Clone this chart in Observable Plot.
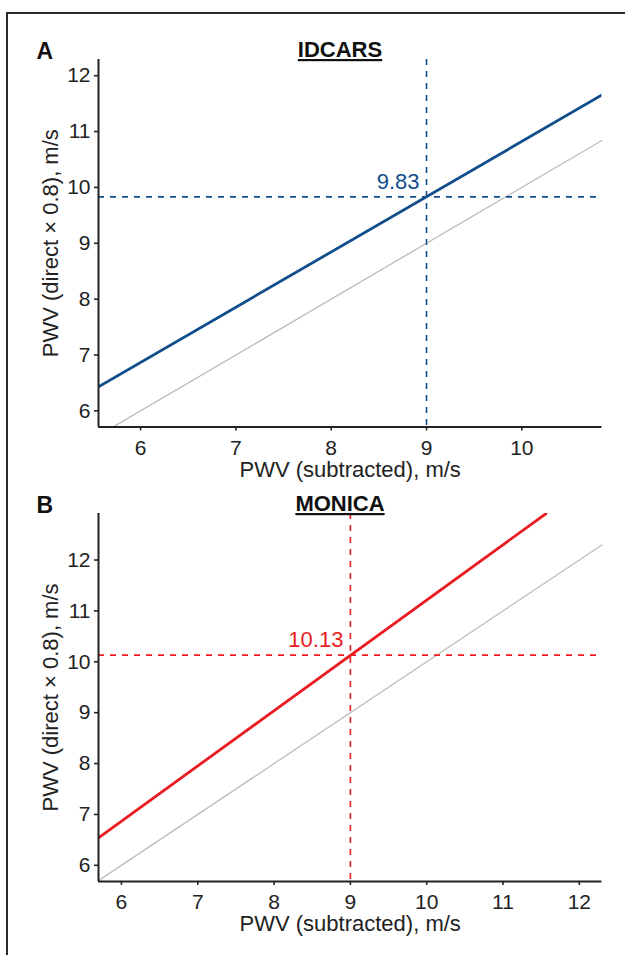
<!DOCTYPE html>
<html>
<head>
<meta charset="utf-8">
<script src="https://cdn.jsdelivr.net/npm/d3@7"></script>
<script src="https://cdn.jsdelivr.net/npm/@observablehq/plot@0.6"></script>
<style>
  html, body { margin: 0; padding: 0; background: #fff; }
  body { width: 625px; height: 955px; position: relative; overflow: hidden; font-family: "Liberation Sans", Arial, sans-serif; }
  #frame { position: absolute; left: 6px; top: 12px; width: 800px; height: 1100px; border-left: 2.5px solid #2b2b2b; border-top: 2.5px solid #2b2b2b; }
  .panel { position: absolute; left: 0; }
</style>
</head>
<body>
<div id="frame"></div>
<div id="panelA" class="panel" style="top:0px"></div>
<div id="panelB" class="panel" style="top:490px"></div>
<script>
// ---- data ----
const panelLetters = ["A", "B"];
const panelTitles = ["IDCARS", "MONICA"];
const xAxisTitle = "PWV (subtracted), m/s";
const yAxisTitle = "PWV (direct \u00d7 0.8), m/s";

const xTicksA = [6, 7, 8, 9, 10];
const xTicksB = [6, 7, 8, 9, 10, 11, 12];
const yTicks = [6, 7, 8, 9, 10, 11, 12];

const xDomainA = [5.559, 10.84];
const yDomainA = [5.713, 12.29];
const xDomainB = [5.699, 12.296];
const yDomainB = [5.684, 12.914];

// fitted conversion lines (end points)
const fitAx = [5.559, 10.84];
const fitAy = [6.43, 11.654];
const fitBx = [5.699, 11.565];
const fitBy = [6.54, 12.914];

// line of identity (end points)
const identityA = [5.713, 10.84];
const identityB = [5.699, 12.296];

const cutoff = 9;
const predictedA = 9.83;
const predictedB = 10.13;
const predictedLabels = ["9.83", "10.13"];

const colorA = "#124E8C";
const colorB = "#EA1C22";
const ink = "#222";

function panel({letter, title, xDomain, yDomain, xTicks, fitX, fitY, ident, pred, predLabel, color, height, marginTop, marginBottom}) {
  const fit = fitX.map((x, i) => ({x, y: fitY[i]}));
  const idLine = ident.map(v => ({x: v, y: v}));
  const svg = Plot.plot({
    width: 625,
    height,
    marginLeft: 98,
    marginRight: 23.6,
    marginTop,
    marginBottom,
    x: {domain: xDomain},
    y: {domain: yDomain},
    style: {fontFamily: "'Liberation Sans', Arial, sans-serif", fontSize: "21px", background: "transparent", overflow: "visible", color: ink},
    marks: [
      Plot.line(idLine, {x: "x", y: "y", stroke: "#BDBDBD", strokeWidth: 1.3}),
      Plot.ruleX([cutoff], {stroke: color, strokeWidth: 1.6, strokeDasharray: "6,6"}),
      Plot.ruleY([pred], {stroke: color, strokeWidth: 1.6, strokeDasharray: "6,6"}),
      Plot.line(fit, {x: "x", y: "y", stroke: color, strokeWidth: 2.8, clip: true}),
      Plot.text([{x: cutoff, y: pred, t: predLabel}], {x: "x", y: "y", text: "t", fill: color, fontSize: 22, textAnchor: "end", lineAnchor: "bottom", dx: -7, dy: -8}),
      Plot.ruleX([xDomain[0]], {stroke: ink, strokeWidth: 2}),
      Plot.ruleY([yDomain[0]], {stroke: ink, strokeWidth: 2}),
      Plot.axisX(xTicks, {fontSize: 21, tickSize: 4, tickPadding: 9, tickFormat: d => String(d), label: null, stroke: ink, fill: ink, strokeWidth: 1.6}),
      Plot.axisY(yTicks, {fontSize: 21, tickSize: 4, tickPadding: 4, tickFormat: d => String(d), label: null, stroke: ink, fill: ink, strokeWidth: 1.6}),
      Plot.text([xAxisTitle], {frameAnchor: "bottom", textAnchor: "middle", lineAnchor: "bottom", dy: 50, fontSize: 22, fill: ink}),
      Plot.text([yAxisTitle], {frameAnchor: "left", textAnchor: "middle", rotate: -90, dx: -48, fontSize: 22, fill: ink}),
      Plot.text([letter], {frameAnchor: "top-left", textAnchor: "start", lineAnchor: "bottom", dx: -62, dy: -1, fontSize: 23, fontWeight: "bold", fill: "#111"}),
      Plot.text([title], {frameAnchor: "top", textAnchor: "middle", lineAnchor: "bottom", dx: -10.2, dy: -2.5, fontSize: 22, fontWeight: "bold", fill: "#111"})
    ]
  });
  d3.select(svg).selectAll("g[aria-label$='tick label']").style("font-size", "21px");
  d3.select(svg).selectAll("text").filter(function() { return this.textContent === title; })
    .attr("text-decoration", "underline").style("text-decoration", "underline");
  return svg;
}

document.getElementById("panelA").appendChild(panel({
  letter: panelLetters[0], title: panelTitles[0], xDomain: xDomainA, yDomain: yDomainA, xTicks: xTicksA,
  fitX: fitAx, fitY: fitAy, ident: identityA, pred: predictedA, predLabel: predictedLabels[0], color: colorA,
  height: 490, marginTop: 59, marginBottom: 63.6
}));
document.getElementById("panelB").appendChild(panel({
  letter: panelLetters[1], title: panelTitles[1], xDomain: xDomainB, yDomain: yDomainB, xTicks: xTicksB,
  fitX: fitBx, fitY: fitBy, ident: identityB, pred: predictedB, predLabel: predictedLabels[1], color: colorB,
  height: 455, marginTop: 23, marginBottom: 64.1
}));
</script>
</body>
</html>
